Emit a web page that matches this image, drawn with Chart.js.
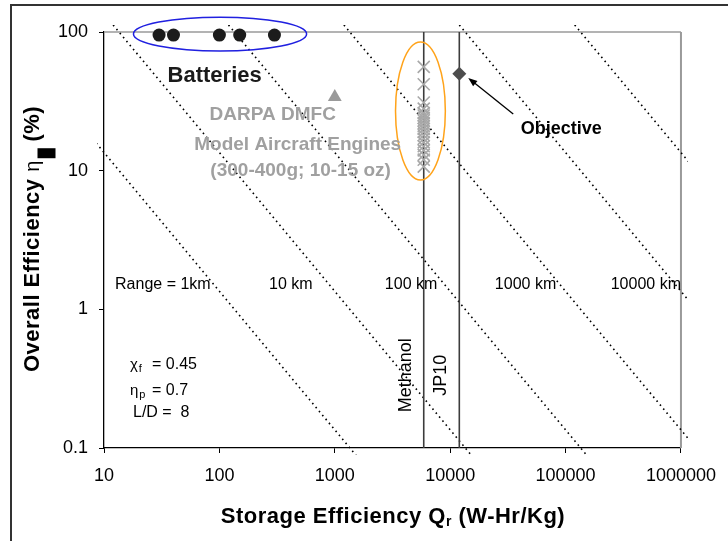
<!DOCTYPE html>
<html>
<head>
<meta charset="utf-8">
<script src="https://cdn.jsdelivr.net/npm/chart.js@4/dist/chart.umd.min.js"></script>
<style>
  html, body { margin: 0; padding: 0; background: #fff; }
  #wrap { width: 728px; height: 541px; }
</style>
</head>
<body>
<div id="wrap"><canvas id="chart" width="728" height="541"></canvas></div>
<script>
const FONT = "'Liberation Sans', Arial, Helvetica, sans-serif";

// Axis ticks (log decades)
const xTickValues = [10, 100, 1000, 10000, 100000, 1000000];
const xTickLabels = ['10', '100', '1000', '10000', '100000', '1000000'];
const yTickValues = [0.1, 1, 10, 100];
const yTickLabels = ['0.1', '1', '10', '100'];

// Storage efficiency (W-Hr/Kg) vs overall efficiency (%)
const batteryQ = [30, 40, 100, 150, 300];
const batteryEta = [95, 95, 95, 95, 95];

const dmfcQ = [1000];
const dmfcEta = [34];

const engineQ = [5900, 5900, 5900, 5900, 5900, 5900, 5900, 5900, 5900, 5900,
                 5900, 5900, 5900, 5900, 5900, 5900, 5900, 5900, 5900, 5900];
const engineEta = [56, 42, 31, 28, 26, 25, 24, 23, 22, 21,
                   20, 19, 18, 17, 16, 15, 14, 13, 12, 10.7];

const objectiveQ = [12000];
const objectiveEta = [50];

// Fuel energy densities
const fuelNames = ['Methanol', 'JP10'];
const fuelQ = [5900, 12000];

// Constant-range lines, end points of each
const rangeNames = ['Range = 1km', '10 km', '100 km', '1000 km', '10000 km'];
const rangeLineQ = [[8, 1600], [12, 16000], [120, 160000], [1200, 1200000], [12000, 1200000], [120000, 1200000]];
const rangeLineEta = [[16.9, 0.0844], [112.5, 0.0844], [112.5, 0.0844], [112.5, 0.1125], [112.5, 1.125], [112.5, 11.25]];

// Flight parameters
const paramLines = [
  { sym: 'χ', sub: 'f', rest: '= 0.45' },
  { sym: 'η', sub: 'p', rest: '= 0.7' },
  { sym: '', sub: '', rest: 'L/D =  8' }
];

// ---- annotation layout (data coordinates) ----
const rangeLabelAt = { q: [84, 643, 7740, 83000, 1000000], eta: 1.5 };
const groupLabels = [
  { text: 'Batteries', q: 91, eta: 48, font: 'bold 22px ' + FONT, color: '#1a1a1a' },
  { text: 'DARPA DMFC', q: 290, eta: 25.2, font: 'bold 19px ' + FONT, color: '#a0a0a0' },
  { text: 'Model Aircraft Engines', q: 477, eta: 15.3, font: 'bold 19px ' + FONT, color: '#a0a0a0' },
  { text: '(300-400g; 10-15 oz)', q: 506, eta: 9.95, font: 'bold 19px ' + FONT, color: '#a0a0a0' },
  { text: 'Objective', q: 91600, eta: 20, font: 'bold 18px ' + FONT, color: '#000' }
];
const ellipses = [
  { q: [18, 570], eta: [73, 128], color: '#2020e0' },
  { q: [3360, 9080], eta: [8.57, 84.7], color: '#ffa31a' }
];
const objectiveArrow = { from: [35200, 25.6], to: [14350, 46.6] };
const paramAt = { q: 16.8, eta: [0.411, 0.267, 0.185] };
const fuelLabelEta = 0.335;

const pts = (xs, ys) => xs.map((x, i) => ({ x: x, y: ys[i] }));

const datasets = [];
rangeLineQ.forEach((qs, i) => {
  datasets.push({
    type: 'line',
    data: pts(qs, rangeLineEta[i]),
    borderColor: '#000',
    borderWidth: 1.6,
    borderDash: [1.6, 3.6],
    pointRadius: 0,
    fill: false,
    clip: 7,
    order: 6
  });
});
fuelQ.forEach(q => {
  datasets.push({
    type: 'line',
    data: [{ x: q, y: 0.1 }, { x: q, y: 100 }],
    borderColor: '#3c3c3c',
    borderWidth: 1.6,
    pointRadius: 0,
    fill: false,
    order: 5
  });
});
datasets.push({
  label: 'Batteries',
  data: pts(batteryQ, batteryEta),
  pointStyle: 'circle', pointRadius: 6.5,
  backgroundColor: '#1c1c1c', borderWidth: 0, clip: 12, order: 1
});
datasets.push({
  label: 'DARPA DMFC',
  data: pts(dmfcQ, dmfcEta),
  pointStyle: 'triangle', pointRadius: 8,
  backgroundColor: '#9a9a9a', borderWidth: 0, clip: 12, order: 1
});
datasets.push({
  label: 'Model Aircraft Engines',
  data: pts(engineQ, engineEta),
  pointStyle: 'crossRot', pointRadius: 8.5,
  borderColor: '#a8a8a8', borderWidth: 1.6, clip: 12, order: 2
});
datasets.push({
  label: 'Objective',
  data: pts(objectiveQ, objectiveEta),
  pointStyle: 'rectRot', pointRadius: 7,
  backgroundColor: '#4d4d4d', borderWidth: 0, clip: 12, order: 1
});

// draws a row of text pieces (and filled boxes) centred on x = 0
function drawRuns(ctx, runs) {
  let total = 0;
  runs.forEach(r => {
    if (r.box) total += r.box[0];
    else { ctx.font = r.font; total += ctx.measureText(r.text).width; }
  });
  let x = -total / 2;
  runs.forEach(r => {
    if (r.box) {
      ctx.fillRect(x, r.box[2], r.box[0], r.box[1]);
      x += r.box[0];
    } else {
      ctx.font = r.font;
      ctx.fillText(r.text, x, r.dy || 0);
      x += ctx.measureText(r.text).width;
    }
  });
}

const decorations = {
  id: 'decorations',
  beforeDraw(chart) {
    const ctx = chart.ctx;
    ctx.save();
    ctx.fillStyle = '#fff';
    ctx.fillRect(0, 0, chart.width, chart.height);
    ctx.restore();
  },
  beforeDatasetsDraw(chart) {
    // plot frame, top and right
    const ctx = chart.ctx;
    const area = chart.chartArea;
    ctx.save();
    ctx.strokeStyle = '#9a9a9a';
    ctx.lineWidth = 1.5;
    ctx.beginPath();
    ctx.moveTo(area.left, area.top);
    ctx.lineTo(area.right, area.top);
    ctx.stroke();
    ctx.lineWidth = 2;
    ctx.beginPath();
    ctx.moveTo(area.right, area.top);
    ctx.lineTo(area.right, area.bottom);
    ctx.stroke();
    ctx.restore();
  },
  afterDatasetsDraw(chart) {
    const ctx = chart.ctx;
    const xs = chart.scales.x, ys = chart.scales.y;
    const P = (q, e) => [xs.getPixelForValue(q), ys.getPixelForValue(e)];
    ctx.save();

    // group ellipses
    ellipses.forEach(el => {
      const [x1, y1] = P(el.q[0], el.eta[1]);
      const [x2, y2] = P(el.q[1], el.eta[0]);
      ctx.strokeStyle = el.color;
      ctx.lineWidth = 1.5;
      ctx.beginPath();
      ctx.ellipse((x1 + x2) / 2, (y1 + y2) / 2, (x2 - x1) / 2, (y2 - y1) / 2, 0, 0, Math.PI * 2);
      ctx.stroke();
    });

    // arrow to the objective
    const [ax, ay] = P(objectiveArrow.from[0], objectiveArrow.from[1]);
    const [bx, by] = P(objectiveArrow.to[0], objectiveArrow.to[1]);
    const ang = Math.atan2(by - ay, bx - ax);
    ctx.strokeStyle = '#000';
    ctx.fillStyle = '#000';
    ctx.lineWidth = 1.3;
    ctx.beginPath();
    ctx.moveTo(ax, ay);
    ctx.lineTo(bx - 6 * Math.cos(ang), by - 6 * Math.sin(ang));
    ctx.stroke();
    ctx.beginPath();
    ctx.moveTo(bx, by);
    ctx.lineTo(bx - 9 * Math.cos(ang) + 3.5 * Math.sin(ang), by - 9 * Math.sin(ang) - 3.5 * Math.cos(ang));
    ctx.lineTo(bx - 9 * Math.cos(ang) - 3.5 * Math.sin(ang), by - 9 * Math.sin(ang) + 3.5 * Math.cos(ang));
    ctx.closePath();
    ctx.fill();

    // group labels
    ctx.textAlign = 'center';
    ctx.textBaseline = 'middle';
    groupLabels.forEach(l => {
      const [x, y] = P(l.q, l.eta);
      ctx.font = l.font;
      ctx.fillStyle = l.color;
      ctx.fillText(l.text, x, y);
    });

    // range labels
    ctx.textAlign = 'right';
    ctx.fillStyle = '#000';
    ctx.font = '16px ' + FONT;
    rangeNames.forEach((name, i) => {
      const [x, y] = P(rangeLabelAt.q[i], rangeLabelAt.eta);
      ctx.fillText(name, x, y);
    });

    // fuel labels, vertical beside their lines
    ctx.textAlign = 'center';
    ctx.font = '18px ' + FONT;
    fuelNames.forEach((name, i) => {
      const [x, y] = P(fuelQ[i], fuelLabelEta);
      ctx.save();
      ctx.translate(x - 18, y);
      ctx.rotate(-Math.PI / 2);
      ctx.fillText(name, 0, 0);
      ctx.restore();
    });

    // flight parameters
    ctx.textAlign = 'left';
    ctx.textBaseline = 'alphabetic';
    paramLines.forEach((p, i) => {
      const [x, y] = P(paramAt.q, paramAt.eta[i]);
      const base = y + 6;
      if (p.sym) {
        ctx.font = '15px ' + FONT;
        ctx.fillText(p.sym, x, base);
        const w = ctx.measureText(p.sym).width;
        ctx.font = '11px ' + FONT;
        ctx.fillText(p.sub, x + w + 1, base + 3);
        ctx.font = '16px ' + FONT;
        ctx.fillText(p.rest, x + 22, base);
      } else {
        ctx.font = '16px ' + FONT;
        ctx.fillText(p.rest, x + 3, base);
      }
    });
    ctx.restore();
  },
  afterDraw(chart) {
    const ctx = chart.ctx;
    ctx.save();
    // outer frame
    ctx.strokeStyle = '#333';
    ctx.lineWidth = 2;
    ctx.beginPath();
    ctx.moveTo(11, chart.height);
    ctx.lineTo(11, 5);
    ctx.lineTo(chart.width, 5);
    ctx.stroke();

    // axis titles
    ctx.fillStyle = '#000';
    ctx.textAlign = 'left';
    ctx.textBaseline = 'alphabetic';
    ctx.letterSpacing = '0.5px';
    const area = chart.chartArea;
    ctx.save();
    ctx.translate((area.left + area.right) / 2 + 0.5, 523);
    drawRuns(ctx, [
      { text: 'Storage Efficiency Q', font: 'bold 22px ' + FONT },
      { text: 'r', font: 'bold 14px ' + FONT, dy: 3 },
      { text: ' (W-Hr/Kg)', font: 'bold 22px ' + FONT }
    ]);
    ctx.restore();

    ctx.save();
    ctx.translate(38.5, (area.top + area.bottom) / 2 - 1);
    ctx.rotate(-Math.PI / 2);
    drawRuns(ctx, [
      { text: 'Overall Efficiency ', font: 'bold 22px ' + FONT },
      { text: 'η', font: '20px ' + FONT },
      { box: [2, 0, 0] },
      { box: [10, 18, -1] },
      { text: ' (%)', font: 'bold 22px ' + FONT }
    ]);
    ctx.restore();
    ctx.restore();
  }
};

const axisCommon = {
  type: 'logarithmic',
  grid: { display: true, drawOnChartArea: false, drawTicks: true, tickLength: 5, color: '#000', lineWidth: 1 },
  border: { display: true, color: '#000', width: 1.3 }
};

new Chart(document.getElementById('chart'), {
  type: 'scatter',
  data: { datasets: datasets },
  plugins: [decorations],
  options: {
    responsive: false,
    animation: false,
    events: [],
    layout: { padding: { left: 0, top: 32, right: 46, bottom: 0 } },
    plugins: { legend: { display: false }, tooltip: { enabled: false } },
    scales: {
      x: Object.assign({}, axisCommon, {
        position: 'bottom',
        min: 10, max: 1000000,
        afterBuildTicks: s => { s.ticks = xTickValues.map(v => ({ value: v })); },
        afterFit: s => { s.height = 93; },
        ticks: {
          autoSkip: false, maxRotation: 0, minRotation: 0, padding: 12,
          color: '#000', font: { family: FONT, size: 18 },
          callback: (v, i) => xTickLabels[i]
        }
      }),
      y: Object.assign({}, axisCommon, {
        position: 'left',
        min: 0.1, max: 100,
        afterBuildTicks: s => { s.ticks = yTickValues.map(v => ({ value: v })); },
        afterFit: s => { s.width = 104; },
        ticks: {
          autoSkip: false, padding: 11,
          color: '#000', font: { family: FONT, size: 18 },
          callback: (v, i) => yTickLabels[i]
        }
      })
    }
  }
});
</script>
</body>
</html>
